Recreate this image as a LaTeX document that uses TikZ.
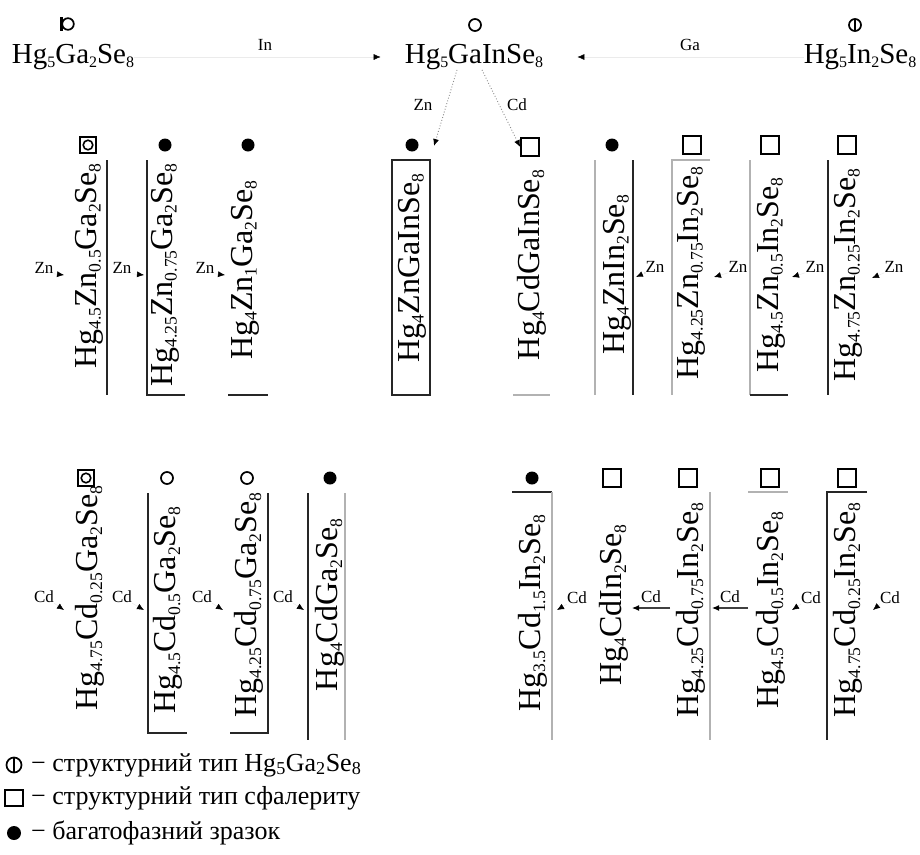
\documentclass[tikz,border=0pt]{standalone}
\usepackage{fontspec}
\setmainfont{Liberation Serif}
\usetikzlibrary{arrows.meta}
% small lowered index used inside the formulas
\newcommand\sbb[1]{\raisebox{-0.3ex}{\scalebox{0.55}{#1}}}
\begin{document}
\begin{tikzpicture}[x=1pt,y=-1pt,
  vlab/.style={rotate=90,inner sep=0pt,font=\fontsize{32}{32}\selectfont},
  hlab/.style={inner sep=0pt,font=\fontsize{29}{29}\selectfont},
  elem/.style={inner sep=0pt,font=\fontsize{17}{17}\selectfont},
  leg/.style={anchor=west,inner sep=0pt,font=\fontsize{26}{26}\selectfont},
  tipk/.style={-{Latex[length=7pt,width=6pt,color=black]}},
  ghost/.style={tipk,draw=black!8,line width=0.5pt},
  dotlink/.style={tipk,draw=black!45,dotted,line width=0.9pt},
  solidlink/.style={tipk,draw=black!75,line width=1.1pt},
  frame/.style={draw=black!85,line width=1.2pt},
  frameg/.style={draw=black!30,line width=1.2pt},
  dotm/.style={circle,fill=black,inner sep=0pt,minimum size=13pt},
  circm/.style={circle,draw,line width=1.7pt,inner sep=0pt,minimum size=12pt},
  phim/.style={circm,path picture={\draw[line width=1.7pt] (path picture bounding box.north)--(path picture bounding box.south);}},
  sqm/.style={rectangle,draw,line width=1.7pt,inner sep=0pt,minimum size=18pt},
  sqcircm/.style={rectangle,draw,line width=1.3pt,inner sep=0pt,minimum size=16pt,
    path picture={\draw[line width=1.6pt] (path picture bounding box.center) circle (4.8pt);}},
  barcircm/.style={rectangle,inner sep=0pt,minimum width=16pt,minimum height=16pt,
    path picture={\draw[line width=1.7pt] ([xshift=1pt]path picture bounding box.center) circle (5.8pt);
      \draw[line width=2.2pt] ([xshift=2.5pt,yshift=-1pt]path picture bounding box.north west) -- ([xshift=2.5pt,yshift=1pt]path picture bounding box.south west);}},
]
\useasboundingbox[fill=white] (0,0) rectangle (920,854);

% ---------- top row: the three parent compounds ----------
\node[barcircm] (mt1) at (67,24) {};
\node[circm]    (mt2) at (475,25) {};
\node[phim]     (mt3) at (855,25) {};
\node[hlab] (t1) at (73,57)  {Hg\sbb{5}Ga\sbb{2}Se\sbb{8}};
\node[hlab] (t2) at (474,57) {Hg\sbb{5}GaInSe\sbb{8}};
\node[hlab] (t3) at (860,57) {Hg\sbb{5}In\sbb{2}Se\sbb{8}};
\node[elem] (eIn) at (265,45) {In};
\node[elem] (eGa) at (690,45) {Ga};
\draw[ghost,shorten >=24pt] (t1.east) -- (t2.west);
\draw[ghost,shorten >=34pt] (t3.west) -- (t2.east);

% substitution from Hg5GaInSe8
\node[elem] (eZn0) at (423,105) {Zn};
\node[elem] (eCd0) at (517,105) {Cd};
\coordinate (zh0) at (434,146);

% ---------- upper row: Zn substitution ----------
\node[sqcircm] (mu1) at (88,145) {};
\node[dotm]    (mu2) at (165,145) {};
\node[dotm]    (mu3) at (248,145) {};
\node[dotm]    (mu4) at (412,145) {};
\node[sqm]     (mu5) at (530,147) {};
\node[dotm]    (mu6) at (612,145) {};
\node[sqm]     (mu7) at (692,145) {};
\node[sqm]     (mu8) at (770,145) {};
\node[sqm]     (mu9) at (847,145) {};

\node[vlab] (u1) at (89,266)  {Hg\sbb{4.5}Zn\sbb{0.5}Ga\sbb{2}Se\sbb{8}};
\node[vlab] (u2) at (165,275) {Hg\sbb{4.25}Zn\sbb{0.75}Ga\sbb{2}Se\sbb{8}};
\node[vlab] (u3) at (245,270) {Hg\sbb{4}Zn\sbb{1}Ga\sbb{2}Se\sbb{8}};
\node[vlab] (u4) at (412,268) {Hg\sbb{4}ZnGaInSe\sbb{8}};
\node[vlab] (u5) at (532,265) {Hg\sbb{4}CdGaInSe\sbb{8}};
\node[vlab] (u6) at (617,275) {Hg\sbb{4}ZnIn\sbb{2}Se\sbb{8}};
\node[vlab] (u7) at (691,273) {Hg\sbb{4.25}Zn\sbb{0.75}In\sbb{2}Se\sbb{8}};
\node[vlab] (u8) at (771,275) {Hg\sbb{4.5}Zn\sbb{0.5}In\sbb{2}Se\sbb{8}};
\node[vlab] (u9) at (848,275) {Hg\sbb{4.75}Zn\sbb{0.25}In\sbb{2}Se\sbb{8}};

\draw[dotlink] ([xshift=-17pt]t2.south) -- (zh0);
\draw[dotlink] ([xshift=8pt]t2.south) -- (mu5.west);

% brackets of the upper row
\draw[frame]  (107,160) -- (107,395);
\draw[frame]  (147,160) -- (147,395) -- (185,395);
\draw[frame]  (228,395) -- (268,395);
\draw[frame]  (392,160) rectangle (430,395);
\draw[frameg] (513,395) -- (550,395);
\draw[frameg] (595,160) -- (595,395);
\draw[frame]  (633,160) -- (633,395);
\draw[frameg] (710,160) -- (672,160) -- (672,395);
\draw[frameg] (750,160) -- (750,395);
\draw[frame]  (750,395) -- (788,395);
\draw[frame]  (828,160) -- (828,395);

% Zn steps, left series
\node[elem] (zl1) at (44,268)  {Zn};
\node[elem] (zl2) at (122,268) {Zn};
\node[elem] (zl3) at (205,268) {Zn};
\coordinate (hzl1) at (64,275);
\coordinate (hzl2) at (144,275);
\coordinate (hzl3) at (225,275);
\draw[ghost] (zl1.south east) -- (hzl1);
\draw[ghost] (zl2.south east) -- (hzl2);
\draw[ghost] (zl3.south east) -- (hzl3);

% Zn steps, right series
\node[elem] (zr1) at (655,267) {Zn};
\node[elem] (zr2) at (738,267) {Zn};
\node[elem] (zr3) at (815,267) {Zn};
\node[elem] (zr4) at (894,267) {Zn};
\coordinate (hzr1) at (636,277);
\coordinate (hzr2) at (714,277);
\coordinate (hzr3) at (792,277);
\coordinate (hzr4) at (872,278);
\draw[dotlink] (zr1.south west) -- (hzr1);
\draw[ghost] (zr2.south west) -- (hzr2);
\draw[ghost] (zr3.south west) -- (hzr3);
\draw[ghost] (zr4.south west) -- (hzr4);

% ---------- lower row: Cd substitution ----------
\node[sqcircm] (ml1) at (86,478) {};
\node[circm]   (ml2) at (167,478) {};
\node[circm]   (ml3) at (247,478) {};
\node[dotm]    (ml4) at (330,478) {};
\node[dotm]    (ml5) at (532,478) {};
\node[sqm]     (ml6) at (612,478) {};
\node[sqm]     (ml7) at (688,478) {};
\node[sqm]     (ml8) at (770,478) {};
\node[sqm]     (ml9) at (847,478) {};

\node[vlab] (l1) at (90,598)  {Hg\sbb{4.75}Cd\sbb{0.25}Ga\sbb{2}Se\sbb{8}};
\node[vlab] (l2) at (168,610) {Hg\sbb{4.5}Cd\sbb{0.5}Ga\sbb{2}Se\sbb{8}};
\node[vlab] (l3) at (249,605) {Hg\sbb{4.25}Cd\sbb{0.75}Ga\sbb{2}Se\sbb{8}};
\node[vlab] (l4) at (330,605) {Hg\sbb{4}CdGa\sbb{2}Se\sbb{8}};
\node[vlab] (l5) at (533,613) {Hg\sbb{3.5}Cd\sbb{1.5}In\sbb{2}Se\sbb{8}};
\node[vlab] (l6) at (614,605) {Hg\sbb{4}CdIn\sbb{2}Se\sbb{8}};
\node[vlab] (l7) at (691,610) {Hg\sbb{4.25}Cd\sbb{0.75}In\sbb{2}Se\sbb{8}};
\node[vlab] (l8) at (771,610) {Hg\sbb{4.5}Cd\sbb{0.5}In\sbb{2}Se\sbb{8}};
\node[vlab] (l9) at (848,610) {Hg\sbb{4.75}Cd\sbb{0.25}In\sbb{2}Se\sbb{8}};

% brackets of the lower row
\draw[frame]  (148,493) -- (148,733) -- (187,733);
\draw[frame]  (230,733) -- (268,733) -- (268,493);
\draw[frame]  (308,493) -- (308,740);
\draw[frameg] (345,493) -- (345,740);
\draw[frame]  (512,492) -- (552,492);
\draw[frameg] (552,492) -- (552,740);
\draw[frameg] (710,492) -- (710,740);
\draw[frameg] (748,492) -- (788,492);
\draw[frame]  (867,492) -- (827,492) -- (827,740);

% Cd steps, left series
\node[elem] (cl1) at (44,597)  {Cd};
\node[elem] (cl2) at (122,597) {Cd};
\node[elem] (cl3) at (202,597) {Cd};
\node[elem] (cl4) at (283,597) {Cd};
\coordinate (hcl1) at (64,610);
\coordinate (hcl2) at (144,610);
\coordinate (hcl3) at (223,610);
\coordinate (hcl4) at (304,610);
\draw[ghost] (cl1.south east) -- (hcl1);
\draw[ghost] (cl2.south east) -- (hcl2);
\draw[ghost] (cl3.south east) -- (hcl3);
\draw[ghost] (cl4.south east) -- (hcl4);

% Cd steps, right series
\node[elem] (cr1) at (577,598) {Cd};
\node[elem] (cr2) at (651,597) {Cd};
\node[elem] (cr3) at (730,597) {Cd};
\node[elem] (cr4) at (811,598) {Cd};
\node[elem] (cr5) at (890,598) {Cd};
\coordinate (hcr1) at (557,610);
\coordinate (scr2) at (670,608);
\coordinate (hcr2) at (632,608);
\coordinate (scr3) at (748,608);
\coordinate (hcr3) at (712,608);
\coordinate (hcr4) at (792,610);
\coordinate (hcr5) at (873,610);
\draw[ghost] (cr1.south west) -- (hcr1);
\draw[solidlink] (scr2) -- (hcr2);
\draw[solidlink] (scr3) -- (hcr3);
\draw[ghost] (cr4.south west) -- (hcr4);
\draw[ghost] (cr5.south west) -- (hcr5);

% ---------- legend ----------
\node[phim,minimum size=15pt] (k1) at (14,765) {};
\node[sqm,minimum width=18pt,minimum height=16pt] (k2) at (14,798) {};
\node[dotm,minimum size=14pt] (k3) at (14,833) {};
\node[leg] (kt1) at (31,765) {− структурний тип Hg\textsubscript{5}Ga\textsubscript{2}Se\textsubscript{8}};
\node[leg] (kt2) at (31,798) {− структурний тип сфалериту};
\node[leg] (kt3) at (31,833) {− багатофазний зразок};
\end{tikzpicture}
\end{document}
